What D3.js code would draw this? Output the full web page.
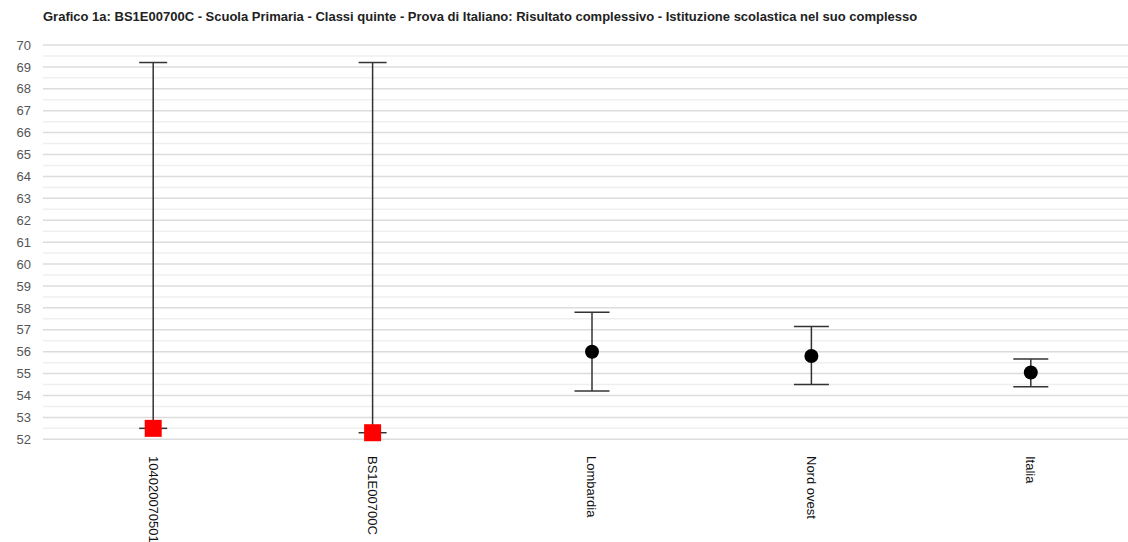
<!DOCTYPE html>
<html><head><meta charset="utf-8">
<script src="https://cdn.jsdelivr.net/npm/d3@7"></script>
<style>
body{margin:0;background:#fff;}
text{font-family:"Liberation Sans",Arial,sans-serif;}
</style></head>
<body><svg id="c" width="1128" height="542"></svg>
<script>
const categories = ["1040200705011","BS1E00700C","Lombardia","Nord ovest","Italia"];
const means = [52.5, 52.3, 56.0, 55.8, 55.05];
const lowers = [52.5, 52.3, 54.2, 54.5, 54.4];
const uppers = [69.2, 69.2, 57.8, 57.15, 55.67];
const markerTypes = ["square","square","circle","circle","circle"];
const yTicks = d3.range(52, 71, 1);
const minorTicks = d3.range(52.5, 70, 1);
const title = "Grafico 1a: BS1E00700C - Scuola Primaria - Classi quinte - Prova di Italiano: Risultato complessivo - Istituzione scolastica nel suo complesso";

const svg = d3.select("#c");
const x = d3.scaleBand().domain(categories).range([43.5, 1140.5]);
const y = d3.scaleLinear().domain([52, 70]).range([439.3, 45]);

svg.append("text").attr("x", 43).attr("y", 21).attr("font-size", 13).attr("font-weight", "bold")
  .attr("fill", "#222").text(title);

// grid
svg.append("g").selectAll("line").data(minorTicks).join("line")
  .attr("x1", 43).attr("x2", 1128).attr("y1", d => y(d)).attr("y2", d => y(d))
  .attr("stroke", "#efefef").attr("stroke-width", 1.5);
svg.append("g").selectAll("line").data(yTicks).join("line")
  .attr("x1", 43).attr("x2", 1128).attr("y1", d => y(d)).attr("y2", d => y(d))
  .attr("stroke", "#dcdcdc").attr("stroke-width", 1.5);

// y axis labels
const yAxis = d3.axisLeft(y).tickValues(yTicks).tickSize(0).tickPadding(0).tickFormat(d3.format("d"));
const ya = svg.append("g").attr("transform", "translate(31,0)").call(yAxis);
ya.select(".domain").remove();
ya.selectAll("text").attr("font-size", 13).attr("fill", "#555").attr("font-family", "'Liberation Sans',Arial,sans-serif");

// x axis labels
const xAxis = d3.axisBottom(x).tickSize(0).tickPadding(0);
const xa = svg.append("g").attr("transform", "translate(0,456)").call(xAxis);
xa.select(".domain").remove();
xa.selectAll("text").attr("font-size", 13).attr("fill", "#111")
  .attr("font-family", "'Liberation Sans',Arial,sans-serif")
  .attr("text-anchor", "start").attr("dy", "0.35em")
  .attr("transform", "rotate(90)").attr("x", 0).attr("y", 0);

const data = categories.map((c, i) => ({c, m: means[i], lo: lowers[i], hi: uppers[i], t: markerTypes[i]}));
const g = svg.append("g");
const cx = d => x(d.c) + x.bandwidth() / 2;
const capW = d => d.t === "square" ? 14 : 17.5;

g.selectAll(".v").data(data).join("line")
  .attr("x1", cx).attr("x2", cx).attr("y1", d => y(d.hi)).attr("y2", d => y(d.lo))
  .attr("stroke", "#333").attr("stroke-width", 1.5);
g.selectAll(".t").data(data).join("line")
  .attr("x1", d => cx(d) - capW(d)).attr("x2", d => cx(d) + capW(d))
  .attr("y1", d => y(d.hi)).attr("y2", d => y(d.hi))
  .attr("stroke", "#333").attr("stroke-width", 1.5);
g.selectAll(".b").data(data).join("line")
  .attr("x1", d => cx(d) - capW(d)).attr("x2", d => cx(d) + capW(d))
  .attr("y1", d => y(d.lo)).attr("y2", d => y(d.lo))
  .attr("stroke", "#333").attr("stroke-width", 1.5);

g.selectAll(".sq").data(data.filter(d => d.t === "square")).join("rect")
  .attr("x", d => cx(d) - 8.5).attr("y", d => y(d.m) - 8.5).attr("width", 17).attr("height", 17)
  .attr("fill", "#ff0000");
g.selectAll(".ci").data(data.filter(d => d.t === "circle")).join("circle")
  .attr("cx", cx).attr("cy", d => y(d.m)).attr("r", 7).attr("fill", "#000");
</script></body></html>
